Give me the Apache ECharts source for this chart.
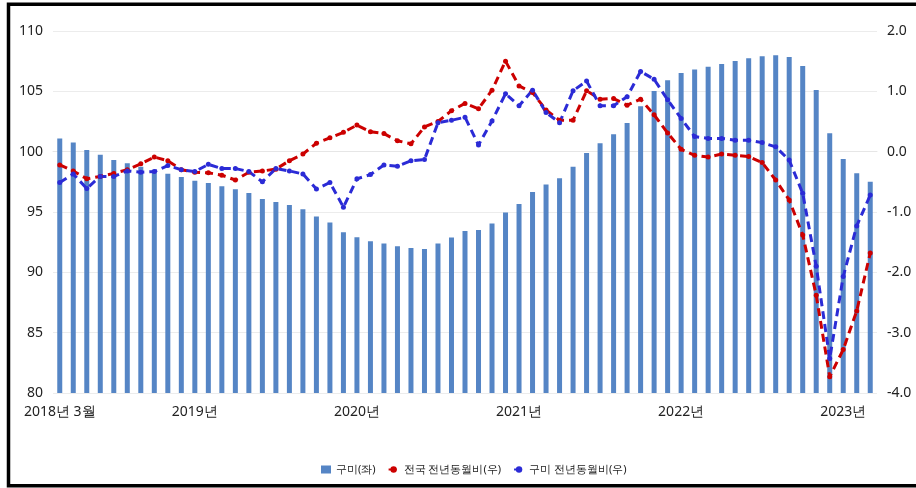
<!DOCTYPE html>
<html>
<head>
<meta charset="utf-8">
<script src="https://cdn.jsdelivr.net/npm/echarts@6/dist/echarts.min.js"></script>
<style>
  html, body { margin: 0; padding: 0; background: #fff; }
  #main { width: 916px; height: 488px; }
</style>
</head>
<body>
<div id="main"></div>
<script>
// 월 라벨 (2018.03 ~ 2023.03)
var months = [];
for (var y = 2018; y <= 2023; y++) {
    for (var m = 1; m <= 12; m++) {
        if (y === 2018 && m < 3) continue;
        if (y === 2023 && m > 3) break;
        months.push(y + '-' + (m < 10 ? '0' + m : m));
    }
}

// 구미 아파트 매매가격지수 (좌축)
var gumiIndex = [
    101.1, 100.75, 100.14, 99.75, 99.3, 99.04, 98.76, 98.5, 98.18, 97.9,
    97.6, 97.4, 97.13, 96.88, 96.58, 96.08, 95.83, 95.58, 95.23, 94.63,
    94.12, 93.32, 92.9, 92.58, 92.38, 92.16, 92.02, 91.94, 92.38, 92.88,
    93.43, 93.51, 94.04, 94.95, 95.67, 96.66, 97.27, 97.8, 98.76, 99.89,
    100.7, 101.44, 102.38, 103.76, 105.03, 105.92, 106.52, 106.8, 107.04, 107.27,
    107.51, 107.74, 107.9, 107.98, 107.85, 107.1, 105.11, 101.52, 99.4, 98.21,
    97.51
];

// 전국 전년동월비 (우축)
var nationYoy = [
    -0.22, -0.32, -0.45, -0.41, -0.36, -0.30, -0.20, -0.09, -0.15, -0.30,
    -0.34, -0.35, -0.39, -0.47, -0.34, -0.32, -0.29, -0.15, -0.04, 0.14,
    0.23, 0.32, 0.44, 0.33, 0.30, 0.18, 0.13, 0.41, 0.50, 0.68,
    0.80, 0.71, 1.02, 1.50, 1.09, 0.98, 0.69, 0.52, 0.52, 1.01,
    0.87, 0.88, 0.77, 0.87, 0.61, 0.31, 0.04, -0.06, -0.09, -0.04,
    -0.06, -0.08, -0.18, -0.47, -0.80, -1.38, -2.38, -3.73, -3.28, -2.64,
    -1.68
];

// 구미 전년동월비 (우축)
var gumiYoy = [
    -0.51, -0.37, -0.61, -0.41, -0.41, -0.32, -0.34, -0.33, -0.23, -0.30,
    -0.33, -0.21, -0.28, -0.28, -0.33, -0.50, -0.28, -0.32, -0.37, -0.62,
    -0.51, -0.92, -0.45, -0.38, -0.22, -0.24, -0.15, -0.13, 0.48, 0.52,
    0.57, 0.11, 0.51, 0.96, 0.76, 1.02, 0.65, 0.48, 1.01, 1.17,
    0.76, 0.76, 0.91, 1.33, 1.20, 0.86, 0.55, 0.25, 0.22, 0.22,
    0.19, 0.19, 0.15, 0.08, -0.14, -0.69, -1.90, -3.43, -2.07, -1.23,
    -0.72
];

// x축에 보이는 라벨
var tickLabels = {
    '2018-03': '2018년 3월',
    '2019-01': '2019년',
    '2020-01': '2020년',
    '2021-01': '2021년',
    '2022-01': '2022년',
    '2023-01': '2023년'
};

var font = "'Noto Sans', sans-serif";
var myChart = echarts.init(document.getElementById('main'));

var option = {
    animation: false,
    textStyle: { fontFamily: font },
    grid: { left: 53, right: 39, top: 31, bottom: 95 },
    graphic: [{
        type: 'rect',
        shape: { x: 8.5, y: 4.2, width: 1000, height: 481.5 },
        style: { fill: 'none', stroke: '#000', lineWidth: 3.5 },
        z: 100
    }],
    legend: {
        bottom: 8,
        left: 316,
        itemGap: 12,
        itemWidth: 10,
        itemHeight: 8,
        textStyle: { fontSize: 11, color: '#222', fontFamily: font },
        data: [
            { name: '구미(좌)', icon: 'rect' },
            { name: '전국 전년동월비(우)' },
            { name: '구미 전년동월비(우)' }
        ]
    },
    xAxis: {
        type: 'category',
        data: months,
        axisLine: { show: true, lineStyle: { color: '#e6e6e6' } },
        axisTick: { show: false },
        axisLabel: {
            interval: 0,
            margin: 12,
            fontSize: 14,
            color: '#222',
            formatter: function (v) { return tickLabels[v] || ''; }
        }
    },
    yAxis: [{
        type: 'value',
        min: 80,
        max: 110,
        interval: 5,
        axisLine: { show: false },
        axisTick: { show: false },
        axisLabel: { fontSize: 14, color: '#222', margin: 10 },
        splitLine: { lineStyle: { color: '#ececec' } }
    }, {
        type: 'value',
        min: -4,
        max: 2,
        interval: 1,
        axisLine: { show: false },
        axisTick: { show: false },
        axisLabel: {
            fontSize: 14, color: '#222', margin: 10,
            formatter: function (v) { return v.toFixed(1); }
        },
        splitLine: { show: false }
    }],
    series: [{
        name: '구미(좌)',
        type: 'bar',
        yAxisIndex: 0,
        barWidth: 5,
        itemStyle: { color: '#5585c5' },
        data: gumiIndex
    }, {
        name: '전국 전년동월비(우)',
        type: 'line',
        yAxisIndex: 1,
        symbol: 'circle',
        symbolSize: 5,
        itemStyle: { color: '#cc0000' },
        lineStyle: { color: '#cc0000', width: 3, type: [8, 5] },
        data: nationYoy
    }, {
        name: '구미 전년동월비(우)',
        type: 'line',
        yAxisIndex: 1,
        symbol: 'circle',
        symbolSize: 5,
        itemStyle: { color: '#2b2bd6' },
        lineStyle: { color: '#2b2bd6', width: 3, type: [8, 5] },
        data: gumiYoy
    }]
};
myChart.setOption(option);
</script>
</body>
</html>
